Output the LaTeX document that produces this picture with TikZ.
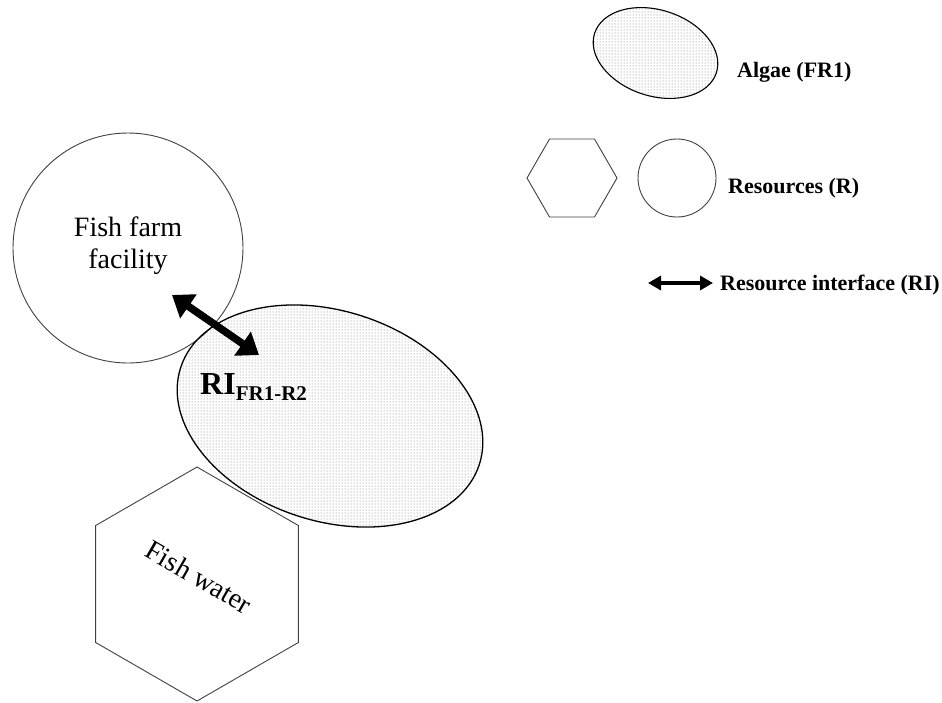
\documentclass[tikz,border=0pt]{standalone}
\usepackage{fontspec}
\setmainfont{Liberation Serif}
\usetikzlibrary{shapes.geometric,arrows.meta,patterns}
\begin{document}
\begin{tikzpicture}[x=1pt,y=-1pt,
  outline/.style={draw=black!75, line width=0.9pt, inner sep=0pt, outer sep=0pt},
  resource/.style={outline, circle},
  hexres/.style={outline, regular polygon, regular polygon sides=6},
  algae/.style={ellipse, draw=black, line width=1.3pt, pattern=dots,
    pattern color=black!55, inner sep=0pt, outer sep=0pt, rotate=-18},
  ribig/.style={line width=7.5pt,
    {Triangle[length=20pt,width=28pt]}-{Triangle[length=20pt,width=28pt]}},
  rismall/.style={line width=4pt,
    {Triangle[length=13pt,width=14pt]}-{Triangle[length=13pt,width=14pt]}},
  plain/.style={font=\fontsize{28}{32}\selectfont, inner sep=0pt},
  legend/.style={font=\fontsize{22}{26}\selectfont\bfseries, anchor=base west, inner sep=0pt}
]
\useasboundingbox (0,0) rectangle (942,702);

% main scene: fish farm, fish water and the algae between them
\node[resource, minimum size=230pt] (farm) at (128,248) {};
\node[plain, align=center] (farmtext) at (128,246) {Fish farm\\facility};

\node[hexres, minimum size=234pt, shape border rotate=30] (water) at (197,584) {};
\node[plain, rotate=-30] (watertext) at (199,577) {Fish water};

\node[algae, minimum width=314pt, minimum height=210pt] (algae) at (330,416) {};

% resource interface between facility and algae
\coordinate (riA) at (172,295);
\coordinate (riB) at (259,355);
\draw[ribig] (riA) -- (riB);
\node[anchor=base west, inner sep=0pt] (rilabel) at (200,394)
  {\fontsize{32}{36}\selectfont\bfseries RI\raisebox{-6pt}{\fontsize{21}{24}\selectfont FR1-R2}};

% legend
\node[algae, line width=1.1pt, minimum width=128pt, minimum height=86pt] (keyalgae) at (655.5,53) {};
\node[legend] (keyalgaetext) at (737,77) {Algae (FR1)};

\node[hexres, minimum size=90pt] (keyhex) at (572,178) {};
\node[resource, minimum size=78pt] (keycircle) at (677,178) {};
\node[legend] (keyrestext) at (728,193) {Resources (R)};

\coordinate (keyA) at (648,283);
\coordinate (keyB) at (713,283);
\draw[rismall] (keyA) -- (keyB);
\node[legend] (keyritext) at (720,290) {Resource interface (RI)};
\end{tikzpicture}
\end{document}
